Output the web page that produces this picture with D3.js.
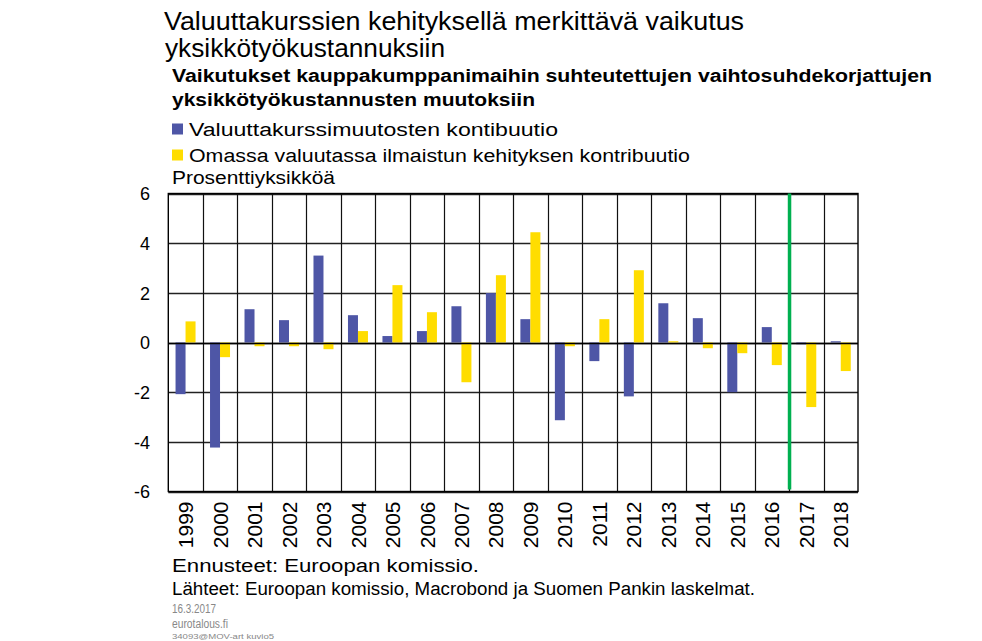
<!DOCTYPE html>
<html>
<head>
<meta charset="utf-8">
<script src="https://cdn.jsdelivr.net/npm/d3@7"></script>
<style>
  html, body { margin: 0; padding: 0; background: #fff; }
  svg { display: block; font-family: "Liberation Sans", Arial, sans-serif; }
</style>
</head>
<body>
<svg id="chart" width="982" height="641"></svg>
<script>
// ---- data ----
const years = ["1999","2000","2001","2002","2003","2004","2005","2006","2007","2008",
               "2009","2010","2011","2012","2013","2014","2015","2016","2017","2018"];
const exchangeRate = [-2.08,-4.23,1.34,0.90,3.50,1.10,0.26,0.46,1.46,1.99,
                      0.94,-3.13,-0.75,-2.17,1.58,0.98,-2.00,0.62,-0.07,0.05];
const ownCurrency  = [0.85,-0.59,-0.15,-0.15,-0.27,0.46,2.31,1.22,-1.60,2.71,
                      4.44,-0.15,0.94,2.91,0.05,-0.23,-0.43,-0.91,-2.60,-1.15];
const seriesNames = ["Valuuttakurssimuutosten kontibuutio",
                     "Omassa valuutassa ilmaistun kehityksen kontribuutio"];
const yTicks = [-6,-4,-2,0,2,4,6];
const forecastStart = "2017";

const svg = d3.select("#chart");
const m = {left: 168.3, right: 858, top: 193.5, bottom: 491.5};

const x = d3.scaleBand().domain(years).range([m.left, m.right]).paddingInner(0).paddingOuter(0);
const xs = d3.scaleBand().domain([0,1]).range([x.bandwidth()*0.21, x.bandwidth()*0.79]).padding(0);
const y = d3.scaleLinear().domain([-6, 6]).range([m.bottom, m.top]);

// helper for fitted text
function txt(sel, s, xx, yy, size, width, opts = {}) {
  const t = sel.append("text").attr("x", xx).attr("y", yy)
    .attr("font-size", size).attr("fill", opts.fill || "#000")
    .attr("font-weight", opts.weight || "normal").text(s);
  if (width) t.attr("textLength", width).attr("lengthAdjust", "spacingAndGlyphs");
  return t;
}

// titles
txt(svg, "Valuuttakurssien kehityksellä merkittävä vaikutus", 164, 29.5, 25, 580);
txt(svg, "yksikkötyökustannuksiin", 165, 56.5, 25, 280);
txt(svg, "Vaikutukset kauppakumppanimaihin suhteutettujen vaihtosuhdekorjattujen", 172, 82, 18, 760, {weight: "bold"});
txt(svg, "yksikkötyökustannusten muutoksiin", 172, 106, 18, 363, {weight: "bold"});

// legend
const colors = ["#4E56A6", "#FFDD00"];
svg.append("rect").attr("x", 172).attr("y", 123.5).attr("width", 11).attr("height", 11).attr("fill", colors[0]);
txt(svg, seriesNames[0], 189, 136, 18, 369);
svg.append("rect").attr("x", 172).attr("y", 149.5).attr("width", 11).attr("height", 11).attr("fill", colors[1]);
txt(svg, seriesNames[1], 189, 162, 18, 501);
txt(svg, "Prosenttiyksikköä", 172, 184, 18, 163);

// grid
const g = svg.append("g");
g.selectAll("line.h").data(yTicks).enter().append("line")
  .attr("x1", m.left).attr("x2", m.right)
  .attr("y1", d => Math.round(y(d)) + 0.5).attr("y2", d => Math.round(y(d)) + 0.5)
  .attr("stroke", "#222").attr("stroke-width", 1.3);
g.selectAll("line.v").data(years.slice(1)).enter().append("line")
  .attr("x1", d => Math.round(x(d)) + 0.5).attr("x2", d => Math.round(x(d)) + 0.5)
  .attr("y1", m.top).attr("y2", m.bottom)
  .attr("stroke", "#111").attr("stroke-width", 1.2);
g.append("rect").attr("x", m.left).attr("y", m.top).attr("width", m.right - m.left)
  .attr("height", m.bottom - m.top).attr("fill", "none").attr("stroke", "#000").attr("stroke-width", 1.4);

// bars
const data = years.map((yr, i) => [exchangeRate[i], ownCurrency[i]]);
const groups = svg.append("g").selectAll("g").data(years).enter().append("g")
  .attr("transform", d => `translate(${x(d)},0)`);
groups.selectAll("rect").data((d, i) => data[i].map((v, k) => ({v, k}))).enter().append("rect")
  .attr("x", d => xs(d.k))
  .attr("width", xs.bandwidth())
  .attr("y", d => y(Math.max(0, d.v)))
  .attr("height", d => Math.abs(y(d.v) - y(0)))
  .attr("fill", d => colors[d.k]);

// zero line on top
svg.append("line").attr("x1", m.left).attr("x2", m.right)
  .attr("y1", Math.round(y(0)) + 0.5).attr("y2", Math.round(y(0)) + 0.5)
  .attr("stroke", "#000").attr("stroke-width", 1.3);

// forecast line
svg.append("line").attr("x1", x(forecastStart) + 0.5).attr("x2", x(forecastStart) + 0.5)
  .attr("y1", m.top).attr("y2", m.bottom - 2)
  .attr("stroke", "#00B050").attr("stroke-width", 3.5);

// y axis labels
const yAxis = d3.axisLeft(y).tickValues(yTicks).tickSize(0).tickPadding(0)
  .tickFormat(d => (d < 0 ? "-" : "") + Math.abs(d));
const ya = svg.append("g").attr("transform", `translate(150,0)`).call(yAxis);
ya.select(".domain").remove();
ya.selectAll("text").attr("font-size", 18).attr("font-family", "Liberation Sans, Arial, sans-serif")
  .attr("fill", "#000").attr("dy", "0.35em");

// x axis labels
const xAxis = d3.axisBottom(x).tickSize(0).tickPadding(0);
const xa = svg.append("g").attr("transform", `translate(0,${m.bottom})`).call(xAxis);
xa.select(".domain").remove();
xa.selectAll("text").attr("font-size", 21).attr("font-family", "Liberation Sans, Arial, sans-serif")
  .attr("fill", "#000")
  .attr("transform", "rotate(-90)").attr("text-anchor", "end")
  .attr("x", -10).attr("y", 0).attr("dy", "0.36em");

// footer
txt(svg, "Ennusteet: Euroopan komissio.", 172, 572, 18, 307);
txt(svg, "Lähteet: Euroopan komissio, Macrobond ja Suomen Pankin laskelmat.", 172, 595, 18, 583);
txt(svg, "16.3.2017", 172, 613, 12, 44, {fill: "#888"});
txt(svg, "eurotalous.fi", 172, 628, 12, 56, {fill: "#888"});
txt(svg, "34093@MOV-art  kuvio5", 172, 639, 8, 102, {fill: "#888"});
</script>
</body>
</html>
